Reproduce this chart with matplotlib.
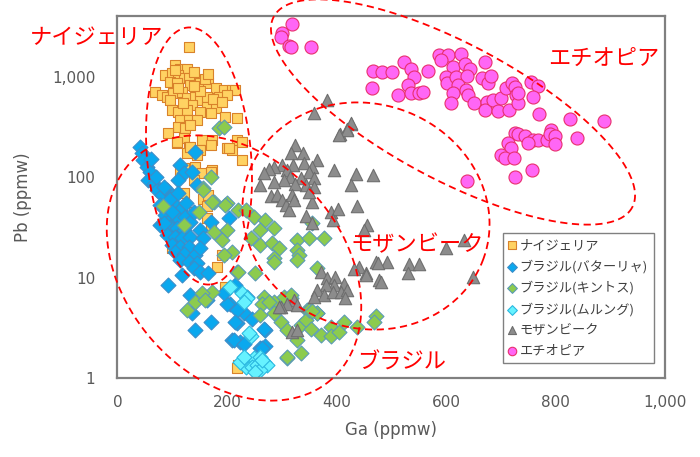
import numpy as np
import matplotlib
matplotlib.use("Agg")
import matplotlib.pyplot as plt
from matplotlib.lines import Line2D
from matplotlib.ticker import FuncFormatter, FixedLocator

# ── Data (Ga ppmw, Pb ppmw) ─────────────────────────────────────────────────
nigeria_ga = [130, 105, 115, 127, 87, 99, 111, 121, 130, 96,
              108, 133, 151, 166, 179, 194, 209, 215, 69, 81,
              90, 102, 118, 127, 142, 151, 164, 185, 200, 96,
              136, 164, 179, 99, 111, 127, 151, 170, 197, 218,
              115, 130, 145, 111, 124, 133, 93, 121, 154, 173,
              218, 228, 108, 130, 151, 200, 209, 127, 145, 228,
              121, 142, 154, 173, 115, 139, 108, 133, 170, 203,
              170, 121, 157, 166, 164, 139, 164, 170, 99, 191,
              182, 197, 221, 218, 140, 160, 110, 150, 175, 120,
              190, 140, 105, 165]
nigeria_pb = [1980, 1300, 1200, 1200, 1035, 1075, 1035, 960, 960, 888,
              855, 823, 855, 855, 763, 735, 735, 735, 706, 655,
              630, 680, 706, 607, 630, 585, 630, 630, 655, 585,
              520, 500, 482, 464, 447, 464, 447, 430, 398, 384,
              369, 369, 369, 316, 305, 329, 272, 243, 233, 233,
              233, 224, 216, 200, 186, 193, 186, 172, 166, 148,
              122, 126, 109, 117, 113, 93, 224, 200, 208, 193,
              113, 69, 61, 66, 51, 45, 39, 32, 19.5, 16.7,
              12.8, 8.1, 1.35, 1.25, 1100, 950, 760, 720, 600, 540,
              560, 800, 1150, 1050]

batalha_ga = [41, 44, 47, 54, 60, 56, 66, 72, 81, 90,
              99, 78, 90, 105, 115, 87, 99, 111, 124, 133,
              78, 96, 108, 121, 90, 105, 118, 133, 151, 157,
              99, 115, 130, 105, 121, 142, 115, 130, 145, 139,
              151, 166, 118, 115, 121, 136, 145, 111, 142, 170,
              203, 151, 93, 133, 164, 136, 142, 170, 206, 215,
              218, 209, 224, 231, 237, 270, 261, 270, 200, 218,
              215, 246, 267, 212, 231, 264, 194, 62, 70, 85,
              95, 110, 125, 100, 85, 140]
batalha_pb = [200, 172, 148, 126, 113, 93, 86, 74, 66, 74,
              64, 53, 51, 53, 47, 42, 39, 39, 40, 36,
              33, 32, 31, 29.5, 26.5, 25.5, 24.5, 25.5, 29.5, 24.5,
              21, 20.3, 20.3, 18, 17.3, 16.7, 15, 14.4, 13.9, 12.4,
              11.4, 11, 10.6, 132, 109, 113, 83, 93, 179, 36,
              39, 19.5, 8.4, 6.7, 6.0, 4.4, 3.0, 3.6, 5.5, 8.4,
              3.5, 2.4, 2.3, 4.4, 6.4, 3.0, 2.0, 2.1, 5.5, 4.75,
              3.6, 3.9, 3.1, 2.4, 2.2, 2.0, 7.0, 150, 100, 80,
              60, 70, 55, 45, 35, 45]

quintos_ga = [185, 194, 170, 157, 200, 84, 221, 176, 157, 173,
              197, 148, 121, 176, 200, 191, 209, 194, 218, 173,
              154, 142, 127, 160, 310, 234, 249, 270, 286, 261,
              243, 261, 283, 295, 286, 328, 350, 328, 331, 377,
              365, 356, 267, 286, 316, 347, 365, 472, 252, 286,
              328, 221, 264, 276, 304, 316, 286, 298, 310, 335,
              344, 350, 365, 353, 371, 390, 390, 405, 414, 438,
              469, 310, 335, 356, 328, 261]
quintos_pb = [305, 316, 101, 77, 55, 51, 47, 57, 74, 57,
              53, 45, 33, 28.6, 29.5, 23.6, 18, 16.7, 11.4, 7.2,
              7.0, 5.75, 4.75, 6.0, 1.57, 47, 40, 37, 31, 29.5,
              24.5, 21, 22, 19.5, 15.5, 23.6, 24.5, 18.8, 16.7, 24.5,
              12.4, 35, 6.4, 5.75, 6.2, 4.75, 4.4, 4.1, 11, 14.4,
              15, 11.4, 5.5, 5.75, 6.4, 6.7, 4.4, 3.6, 3.0, 3.4,
              3.8, 4.75, 4.4, 3.1, 2.7, 3.25, 2.6, 2.9, 3.6, 3.25,
              3.6, 1.63, 1.76, 4.6, 2.4, 4.2]

mulungu_ga = [206, 228, 237, 231, 243, 240, 237, 249, 261, 234,
              246, 255, 267, 273, 261, 224, 252, 231, 264]
mulungu_pb = [8.1, 7.0, 6.2, 5.75, 2.6, 2.8, 1.5, 1.57, 1.63, 1.3,
              1.3, 1.35, 1.45, 1.35, 1.2, 1.45, 1.15, 1.63, 1.5]

mozambique_ga = [359, 427, 419, 407, 325, 316, 338, 341, 365, 356,
                 350, 321, 301, 286, 276, 267, 310, 315, 335, 359,
                 359, 344, 325, 304, 286, 261, 280, 292, 301, 307,
                 313, 319, 322, 356, 350, 396, 435, 426, 466, 437,
                 390, 402, 393, 344, 356, 456, 451, 472, 493, 478,
                 441, 432, 454, 533, 551, 530, 600, 633, 649, 371,
                 383, 398, 414, 396, 380, 365, 377, 393, 408, 420,
                 415, 359, 322, 310, 298, 454, 481, 475, 319, 328,
                 295, 328, 383, 426, 420, 405]
mozambique_pb = [430, 337, 298, 268, 208, 175, 175, 137, 148, 125,
                 113, 132, 132, 126, 119, 109, 117, 101, 97, 97,
                 80, 83, 86, 93, 90, 83, 64, 66, 59, 53,
                 47, 66, 59, 57, 71, 117, 107, 83, 105, 51,
                 45, 48, 37, 41, 35, 33, 30, 14.4, 14.4, 9.4,
                 12.8, 12.1, 11, 13.6, 13.6, 11.2, 19.5, 23.6, 10.2, 11.4,
                 9.8, 10.2, 8.7, 8.4, 8.4, 7.5, 6.7, 7.2, 7.2, 7.5,
                 6.2, 6.4, 6.0, 5.5, 5.1, 10.6, 9.1, 13.9, 2.9, 3.0,
                 5.1, 5.3, 585, 342, 294, 262]

ethiopia_ga = [319, 301, 298, 313, 316, 353, 466, 484, 501, 464,
               524, 536, 542, 530, 513, 536, 551, 558, 568, 588,
               603, 590, 613, 600, 602, 619, 628, 634, 643, 639,
               622, 613, 637, 640, 609, 652, 671, 666, 677, 683,
               675, 671, 686, 695, 701, 715, 710, 720, 726, 727,
               731, 732, 755, 768, 759, 770, 826, 889, 840, 726,
               732, 744, 759, 768, 784, 791, 790, 799, 799, 713,
               718, 750, 701, 707, 724, 726, 757, 639]
ethiopia_pb = [3300, 2690, 2500, 1990, 1950, 1950, 1135, 1100, 1100, 774,
               1380, 1200, 1000, 830, 655, 680, 680, 700, 1135, 1640,
               1640, 1460, 1250, 1000, 855, 1000, 1660, 1320, 1200, 1020,
               820, 680, 735, 655, 540, 540, 1400, 970, 855, 1020,
               560, 464, 585, 454, 607, 464, 774, 855, 795, 655,
               540, 680, 888, 811, 630, 424, 378, 361, 246, 272,
               265, 258, 233, 233, 233, 294, 265, 258, 211, 216,
               196, 216, 166, 156, 153, 101, 117, 91]

x_ticks = [0, 200, 400, 600, 800, 1000]
y_ticks = [1, 10, 100, 1000]

# ── Figure ───────────────────────────────────────────────────────────────────
W, H = 700, 457
fig = plt.figure(figsize=(W / 100, H / 100), dpi=100)
ax = fig.add_axes([117.5 / W, 1 - 378 / H, (665 - 117.5) / W, (378 - 16) / H])

series = [
    (nigeria_ga, nigeria_pb, "ナイジェリア", "s", 62, "#FFD262", "#D9822B"),
    (batalha_ga, batalha_pb, "ブラジル(バターリャ)", "D", 58, "#0AA8EE", "#3C8DC8"),
    (quintos_ga, quintos_pb, "ブラジル(キントス)", "D", 58, "#8CCB4E", "#5C9BB5"),
    (mulungu_ga, mulungu_pb, "ブラジル(ムルング)", "D", 58, "#66F2FF", "#2BB8E0"),
    (mozambique_ga, mozambique_pb, "モザンビーク", "^", 80, "#8C8C8C", "#6E6E6E"),
    (ethiopia_ga, ethiopia_pb, "エチオピア", "o", 88, "#FF66F5", "#E8306E"),
]
for ga, pb, label, mk, size, fc, ec in series:
    ax.scatter(ga, pb, marker=mk, s=size, facecolor=fc, edgecolor=ec,
               linewidths=0.8, label=label)

ax.set_yscale("log")
ax.set_xlim(0, 1000)
ax.set_ylim(1, 4000)
ax.xaxis.set_major_locator(FixedLocator(x_ticks))
ax.yaxis.set_major_locator(FixedLocator(y_ticks))
ax.yaxis.set_minor_locator(FixedLocator([]))
fmt = FuncFormatter(lambda v, p: f"{v:,.0f}")
ax.xaxis.set_major_formatter(fmt)
ax.yaxis.set_major_formatter(fmt)
ax.tick_params(length=0, labelsize=11, labelcolor="#595959")
ax.tick_params(axis="x", pad=12)
ax.tick_params(axis="y", pad=16)
for sp in ax.spines.values():
    sp.set_color("#808080")
    sp.set_linewidth(1.6)

ax.set_xlabel("Ga (ppmw)", fontsize=12, color="#595959", labelpad=8)
ax.set_ylabel("Pb (ppmw)", fontsize=12, color="#595959", labelpad=14)

leg = ax.legend(loc="upper left", bbox_to_anchor=((503 - 117.5) / 547.5, (378 - 233) / 362),
                borderaxespad=0, fancybox=False, framealpha=1, edgecolor="#808080",
                prop={"family": ["Noto Sans CJK JP", "DejaVu Sans"], "size": 9.5},
                markerscale=0.65, handlelength=0.5, handletextpad=0.3,
                labelspacing=0.58, borderpad=0.45, scatterpoints=1)
for t in leg.get_texts():
    t.set_color("#404040")
leg.get_frame().set_linewidth(1.0)


# ── Dashed group ellipses (figure pixel space, y down) ──────────────────────
def ellipse(cx, cy, a, b, ang):
    t = np.linspace(0, 2 * np.pi, 400)
    th = np.deg2rad(ang)
    dx = a * np.cos(t) * np.cos(th) - b * np.sin(t) * np.sin(th)
    dy = a * np.cos(t) * np.sin(th) + b * np.sin(t) * np.cos(th)
    fig.add_artist(Line2D((cx + dx) / W, 1 - (cy + dy) / H, transform=fig.transFigure,
                          color="red", lw=1.3, ls=(0, (4, 2.5))))


ellipse(199, 156, 129, 52, 85)
ellipse(234, 268, 148, 109, 49)
ellipse(366, 216, 125, 112, 20)
ellipse(453, 112, 203, 68, 28)

jp = ["Noto Sans CJK JP", "DejaVu Sans"]
for txt, x, y in [("ナイジェリア", 30, 38), ("エチオピア", 548, 58),
                  ("モザンビーク", 350, 245), ("ブラジル", 357, 362)]:
    fig.text(x / W, 1 - y / H, txt, color="red", fontsize=16, family=jp,
             ha="left", va="center")

fig.savefig("out.png", dpi=100)
